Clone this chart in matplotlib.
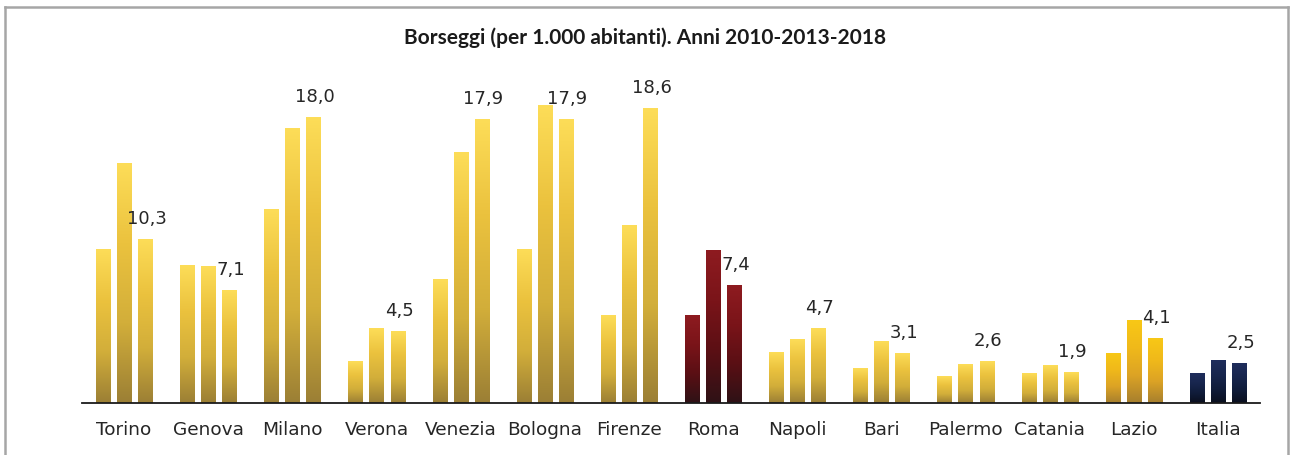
import matplotlib
matplotlib.use("Agg")
import matplotlib.pyplot as plt
import numpy as np
from matplotlib.colors import LinearSegmentedColormap

categories = ["Torino", "Genova", "Milano", "Verona", "Venezia", "Bologna", "Firenze",
              "Roma", "Napoli", "Bari", "Palermo", "Catania", "Lazio", "Italia"]
v2010 = [9.7, 8.7, 12.2, 2.6, 7.8, 9.7, 5.5, 5.5, 3.2, 2.2, 1.7, 1.85, 3.1, 1.85]
v2013 = [15.1, 8.6, 17.3, 4.7, 15.8, 18.8, 11.2, 9.6, 4.0, 3.85, 2.45, 2.35, 5.2, 2.65]
v2018 = [10.3, 7.1, 18.0, 4.5, 17.9, 17.9, 18.6, 7.4, 4.7, 3.1, 2.6, 1.9, 4.1, 2.5]
labels2018 = ["10,3", "7,1", "18,0", "4,5", "17,9", "17,9", "18,6", "7,4", "4,7", "3,1",
              "2,6", "1,9", "4,1", "2,5"]
title = "Borseggi (per 1.000 abitanti). Anni 2010-2013-2018"

palettes = {
    "yellow": ["#9B7F35", "#D2AE3A", "#EBC23E", "#FDDD58"],
    "red": ["#2E1216", "#5A0F14", "#7A1419", "#8E1B20"],
    "lazio": ["#A67F2E", "#DCA325", "#F0B91A", "#F8C816"],
    "navy": ["#0A0F1E", "#101C3A", "#18264E", "#1F2D5C"],
}
cat_palette = ["yellow"] * 7 + ["red"] + ["yellow"] * 4 + ["lazio", "navy"]

fig = plt.figure(figsize=(12.9, 4.55), dpi=100)
ax = fig.add_axes([82 / 1290, 1 - 403 / 455, (1260 - 82) / 1290, 317 / 455])

x = np.arange(len(categories))
step = 0.25
width = 0.167
grad = np.linspace(0, 1, 256).reshape(-1, 1)

for k, vals in enumerate([v2010, v2013, v2018]):
    offs = (k - 1) * step
    bars = ax.bar(x + offs, vals, width, color="none", edgecolor="none")
    for i, b in enumerate(bars):
        cmap = LinearSegmentedColormap.from_list("g", palettes[cat_palette[i]])
        x0 = b.get_x()
        h = b.get_height()
        ax.imshow(grad, cmap=cmap, origin="lower", aspect="auto",
                  extent=[x0, x0 + width, 0, h], zorder=2, interpolation="bilinear")

for i, v in enumerate(v2018):
    ax.text(x[i] + step + 0.02, v + 0.72, labels2018[i], ha="center", va="bottom",
            fontsize=13, color="#262626", family="DejaVu Sans", zorder=4)

ax.set_xlim(-0.5, len(categories) - 0.5)
ax.set_ylim(0, 20)
ax.set_xticks(x)
ax.set_xticklabels(categories, fontsize=13.3, color="#262626", family="DejaVu Sans")
ax.tick_params(axis="x", length=0, pad=13)
ax.set_yticks([])
for s in ["top", "right", "left"]:
    ax.spines[s].set_visible(False)
ax.spines["bottom"].set_color("#1a1a1a")
ax.spines["bottom"].set_linewidth(1.3)
ax.spines["bottom"].set_zorder(5)

fig.text(0.5, 1 - 38 / 455, title, ha="center", va="center", fontsize=15,
         fontweight="bold", family="Lato", color="#1a1a1a")

# outer frame (top, left, right)
frame_color = "#a6a6a6"
fig.add_artist(plt.Line2D([5 / 1290, 5 / 1290], [0, 1 - 7 / 455], color=frame_color,
                          lw=1.8, transform=fig.transFigure))
fig.add_artist(plt.Line2D([5 / 1290, 1288 / 1290], [1 - 7 / 455, 1 - 7 / 455],
                          color=frame_color, lw=1.8, transform=fig.transFigure))
fig.add_artist(plt.Line2D([1288 / 1290, 1288 / 1290], [0, 1 - 7 / 455], color=frame_color,
                          lw=1.8, transform=fig.transFigure))

fig.savefig("out.png", dpi=100, facecolor="white")
